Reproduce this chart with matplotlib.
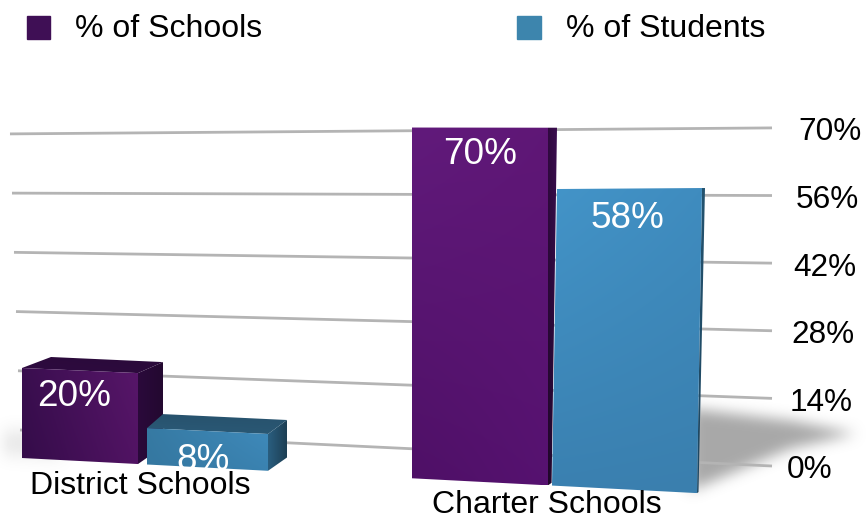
import numpy as np
import matplotlib
matplotlib.use("Agg")
import matplotlib.pyplot as plt
from matplotlib.patches import Polygon, Rectangle
from matplotlib.path import Path

plt.rcParams['font.family'] = ['Liberation Sans', 'DejaVu Sans']

# data
categories = ["District Schools", "Charter Schools"]
series_names = ["% of Schools", "% of Students"]
schools = [20, 70]
students = [8, 58]
ticks = [0, 14, 28, 42, 56, 70]

W, H = 866, 519
fig = plt.figure(figsize=(W / 100, H / 100), dpi=100)
ax = fig.add_axes([0, 0, 1, 1])
ax.axis("off")


# back wall: value -> pixel position of the gridline ends
def wall(v):
    return (20 - v * 0.143, 430 - v * 4.23), (772, 466 - v * 4.83)


# front plane: bar bottoms run downhill, bars get taller to the right
def base_y(x):
    return 458 + (x - 22) * 35 / 673


def front_y(x, v):
    return base_y(x) - v * np.interp(x, [22, 268, 411, 549, 697], [4.5, 4.6, 5.01, 5.11, 5.26])


def gradient_poly(pts, tl, tr, bl, br, z):
    # bilinear colour fill clipped to a polygon
    pts = np.array(pts)
    x0, y0 = pts.min(axis=0)
    x1, y1 = pts.max(axis=0)
    c = [np.array(matplotlib.colors.to_rgb(k)) for k in (tl, tr, bl, br)]
    u, t = np.meshgrid(np.linspace(0, 1, 64), np.linspace(0, 1, 64))
    u, t = u[..., None], t[..., None]
    img = (1 - t) * ((1 - u) * c[0] + u * c[1]) + t * ((1 - u) * c[2] + u * c[3])
    im = ax.imshow(img, extent=(x0, x1, y1, y0), aspect="auto", zorder=z, interpolation="bilinear")
    clip = Polygon(pts, closed=True, transform=ax.transData, fc="none", ec="none")
    ax.add_patch(clip)
    im.set_clip_path(clip)


def draw_bar(x0, x1, v, top_dx, side_dx, depth_up, side_bottom, cols, z):
    bl = (x0, base_y(x0))
    br = (x1, base_y(x1))
    tl = (x0 + top_dx, front_y(x0, v))
    tr = (x1 + top_dx, front_y(x1, v))
    back_l = (tl[0] + side_dx[0], tl[1] - depth_up)
    back_r = (tr[0] + side_dx[1], tr[1] - depth_up)
    side_low = (br[0] + side_dx[1] * side_bottom, br[1] - side_dx[1] * side_bottom * 0.7)
    gradient_poly([tr, back_r, side_low, br], *cols["side"], z)
    if depth_up > 1:
        gradient_poly([tl, back_l, back_r, tr], *cols["top"], z)
    gradient_poly([tl, tr, br, bl], *cols["front"], z)


def blurred_shadow(pts, blur, alpha, z):
    # soft floor shadow, rasterised polygon blurred with a box kernel
    yy, xx = np.mgrid[0:H, 0:W]
    grid = np.c_[xx.ravel(), yy.ravel()]
    mask = Path(pts).contains_points(grid).reshape(H, W).astype(float)
    kernel = np.ones(blur) / blur
    for _ in range(3):
        mask = np.apply_along_axis(lambda r: np.convolve(r, kernel, mode="same"), 0, mask)
        mask = np.apply_along_axis(lambda r: np.convolve(r, kernel, mode="same"), 1, mask)
    rgba = np.zeros((H, W, 4))
    rgba[..., :3] = 0.66
    rgba[..., 3] = mask * alpha
    ax.imshow(rgba, extent=(0, W, H, 0), aspect="auto", zorder=z)


blurred_shadow([(690, 408), (790, 420), (855, 433), (790, 448), (690, 490)], 13, 1.0, 1)
blurred_shadow([(-30, 432), (60, 428), (60, 458), (-30, 452)], 15, 0.25, 1)

for v in ticks:
    a, b = wall(v)
    ax.plot([a[0], b[0]], [a[1], b[1]], color="#b4b4b4", lw=2.0, zorder=2, solid_capstyle="butt")
    ax.text(787 + v * 0.16, b[1] + 1, f"{v}%", fontsize=22.7,
            ha="left", va="center_baseline", color="black", zorder=8)

purple_short = {
    "front": ("#3a0e4f", "#571669", "#340c49", "#511363"),
    "top": ("#2c0a3c", "#2a0a3a", "#2e0b40", "#2c0a3c"),
    "side": ("#2b0a3b", "#230830", "#2b0a3b", "#230830"),
}
blue_short = {
    "front": ("#367aa3", "#3f8abb", "#3577a0", "#3a82b0"),
    "top": ("#27526d", "#27526d", "#2b5a78", "#2a5773"),
    "side": ("#2a5e7f", "#1d3f54", "#2a5e7f", "#1d3f54"),
}
purple_tall = {
    "front": ("#611a7b", "#5f1776", "#4e1066", "#561270"),
    "top": ("#7a2494", "#7a2494", "#7a2494", "#7a2494"),
    "side": ("#300a40", "#3b0d4f", "#200729", "#2a0938"),
}
blue_tall = {
    "front": ("#4394c8", "#3f8cbf", "#3a80b0", "#3a7fae"),
    "top": ("#2d6486", "#2d6486", "#2d6486", "#2d6486"),
    "side": ("#24536f", "#24536f", "#1e4660", "#1e4660"),
}

# x0, x1, top shift, side depth, rise of the top face, how far the side reaches at the floor
draw_bar(22, 138, schools[0], 0, (29, 25), 11, 1.0, purple_short, 4)
draw_bar(147, 268, students[0], 0, (16, 19), 14, 1.0, blue_short, 5)
draw_bar(412, 548, schools[1], 0, (0, 9), 0, 0.4, purple_tall, 6)
draw_bar(552, 697, students[1], 5, (0, 3), 0, 0.5, blue_tall, 7)

# value labels
ax.text(74, 396, f"{schools[0]}%", color="white", fontsize=26.6, ha="center", va="center", zorder=9)
ax.text(203, 460, f"{students[0]}%", color="white", fontsize=26.6, ha="center", va="center", zorder=9)
ax.text(480, 154, f"{schools[1]}%", color="white", fontsize=26.6, ha="center", va="center", zorder=9)
ax.text(627, 218, f"{students[1]}%", color="white", fontsize=26.6, ha="center", va="center", zorder=9)

# category labels
ax.text(140, 486, categories[0], fontsize=23, ha="center", va="center", color="black", zorder=10)
ax.text(547, 505, categories[1], fontsize=23, ha="center", va="center", color="black", zorder=10)

# legend
ax.add_patch(Rectangle((27, 16), 23, 23, color="#3f0f55", zorder=3))
ax.add_patch(Rectangle((517, 16), 24, 23, color="#3d85ad", zorder=3))
ax.text(75, 29, series_names[0], fontsize=23, ha="left", va="center", color="black")
ax.text(566, 29, series_names[1], fontsize=23, ha="left", va="center", color="black")

ax.set_xlim(0, W)
ax.set_ylim(H, 0)
fig.savefig("out.png", dpi=100)
